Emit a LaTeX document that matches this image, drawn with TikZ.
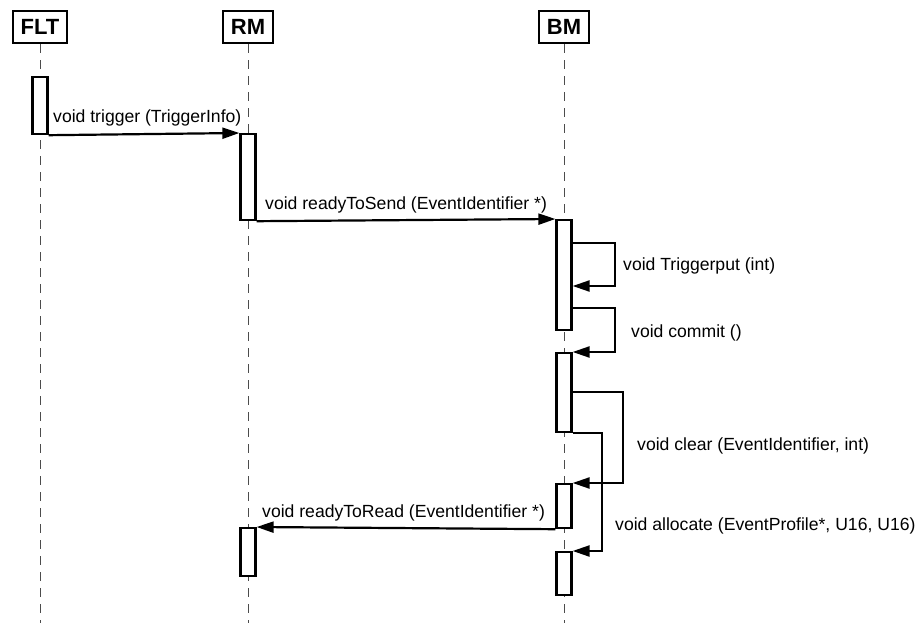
\documentclass[tikz,border=0pt]{standalone}
\usepackage{fontspec}
\setmainfont{Liberation Sans}
\usetikzlibrary{arrows.meta}
\begin{document}
\begin{tikzpicture}[x=1pt,y=-1pt,
  head/.style={draw,line width=2.2pt,minimum height=32pt,inner xsep=8pt,font=\fontsize{22}{26}\selectfont\bfseries},
  life/.style={line width=1pt,black!70,dash pattern=on 9pt off 7pt},
  act/.style={draw,fill=white,line width=2.2pt,minimum width=15pt,inner sep=0pt,anchor=north},
  msg/.style={line width=2.2pt,-{Triangle[length=17pt,width=11pt]}},
  lbl/.style={anchor=base west,inner sep=0pt,font=\fontsize{17.6}{21}\selectfont}]
\useasboundingbox (0,0) rectangle (918,623);
\node[head] (flt) at (40,27) {FLT};
\node[head] (rm) at (248,27) {RM};
\node[head] (bm) at (564,27) {BM};
\draw[life] (flt.south) -- (flt.south |- 0,623);
\draw[life] (rm.south) -- (rm.south |- 0,623);
\draw[life] (bm.south) -- (bm.south |- 0,623);
\node[act,minimum height=57pt] (flt1) at (40,76) {};
\node[act,minimum height=86pt] (rm1) at (248,133) {};
\node[act,minimum height=48pt] (rm2) at (248,527) {};
\node[act,minimum height=110pt] (bm1) at (564,219) {};
\node[act,minimum height=79pt] (bm2) at (564,352) {};
\node[act,minimum height=44pt] (bm3) at (564,483) {};
\node[act,minimum height=43pt] (bm4) at (564,551) {};
\draw[msg] (flt1.south east) -- (rm1.north west);
\draw[msg] (rm1.south east) -- (bm1.north west);
\draw[msg] ([yshift=-24pt]bm1.north east) -- ++(42,0) |- ([yshift=-67pt]bm1.north east);
\draw[msg] ([yshift=-89pt]bm1.north east) -- ++(42,0) |- (bm2.north east);
\draw[msg] ([yshift=-40pt]bm2.north east) -- ++(50,0) |- (bm3.north east);
\draw[msg] (bm2.south east) -- ++(29,0) |- (bm4.north east);
\draw[msg] (bm3.south west) -- (rm2.north east);
\node[lbl] (trigger) at (53,123) {void trigger (TriggerInfo)};
\node[lbl] (send) at (265,209) {void readyToSend (EventIdentifier *)};
\node[lbl] (put) at (623,270) {void Triggerput (int)};
\node[lbl] (commit) at (631,337) {void commit ()};
\node[lbl] (clear) at (637,450) {void clear (EventIdentifier, int)};
\node[lbl] (alloc) at (615,530) {void allocate (EventProfile*, U16, U16)};
\node[lbl] (read) at (262,517) {void readyToRead (EventIdentifier *)};
\end{tikzpicture}
\end{document}
